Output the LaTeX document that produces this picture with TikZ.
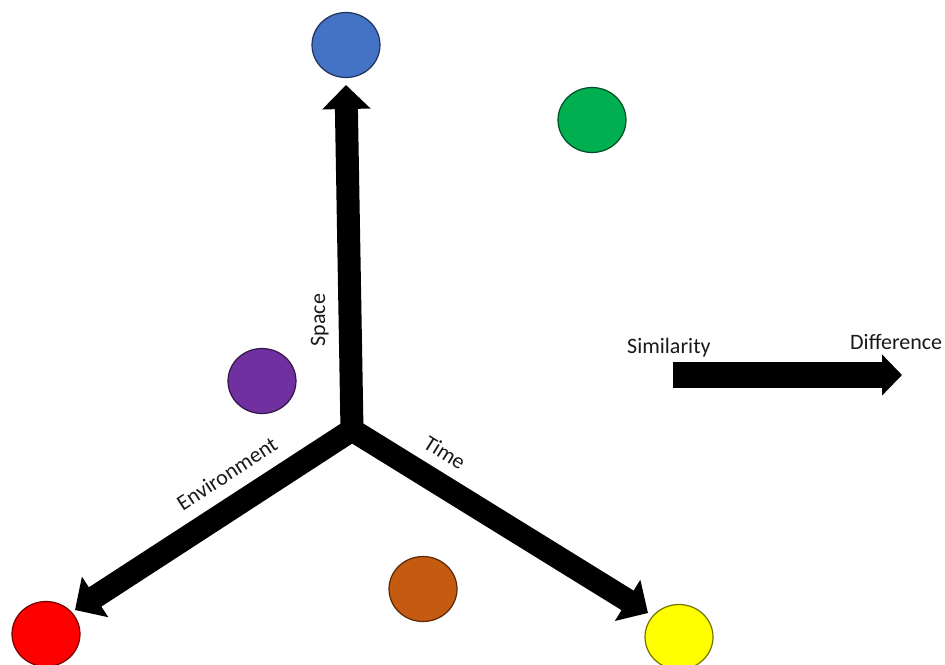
\documentclass[tikz,border=0pt]{standalone}
\usepackage{fontspec}
\setmainfont{Carlito}
\usetikzlibrary{arrows.meta,shapes.geometric}
\definecolor{cblue}{HTML}{4472C4}
\definecolor{cgreen}{HTML}{00B050}
\definecolor{cpurple}{HTML}{7030A0}
\definecolor{corange}{HTML}{C55A11}
\definecolor{cred}{HTML}{FF0000}
\definecolor{cyellow}{HTML}{FFFF00}
\begin{document}
\begin{tikzpicture}[x=1pt,y=-1pt,
  dot/.style={ellipse, minimum width=68pt, minimum height=65pt, inner sep=0pt, line width=1.2pt, fill=#1, draw=#1!45!black},
  axis/.style={line width=23pt, line join=miter},
  bigtip/.style={-{Triangle[width=47pt,length=24pt]}},
  lbl/.style={font=\fontsize{22}{26}\selectfont, text=black!90, inner sep=0pt}]
\useasboundingbox (0,0) rectangle (945,664);
% circles
\node[dot=cblue] (blue) at (346,45) {};
\node[dot=cgreen] (green) at (592,120) {};
\node[dot=cpurple] (purple) at (262,381) {};
\node[dot=corange] (orange) at (423,589) {};
\node[dot=cred] (red) at (46,634) {};
\node[dot=cyellow] (yellow) at (679,637) {};
% axes
\coordinate (o) at (352,430);
\coordinate (top) at (346,85);
\coordinate (lt) at (75,610);
\coordinate (rt) at (648,613);
\draw[axis, {Triangle[width=47pt,length=24pt]}-{Triangle[width=47pt,length=24pt]}] (lt) -- (o) -- (rt);
\draw[axis, bigtip] (o) -- (top);
% axis labels
\node[lbl, rotate=90, anchor=base] (space) at (325,320) {Space};
\node[lbl, rotate=33, anchor=base] (env) at (231,480) {Environment};
\node[lbl, rotate=-32, anchor=base] (time) at (441,459) {Time};
% similarity scale
\node[lbl, anchor=base west] (sim) at (627,353) {Similarity};
\node[lbl, anchor=base west] (dif) at (850,349) {Difference};
\coordinate (s1) at (673,375);
\coordinate (s2) at (902,375);
\draw[line width=26pt, -{Triangle[width=40pt,length=20pt]}] (s1) -- (s2);
\end{tikzpicture}
\end{document}
